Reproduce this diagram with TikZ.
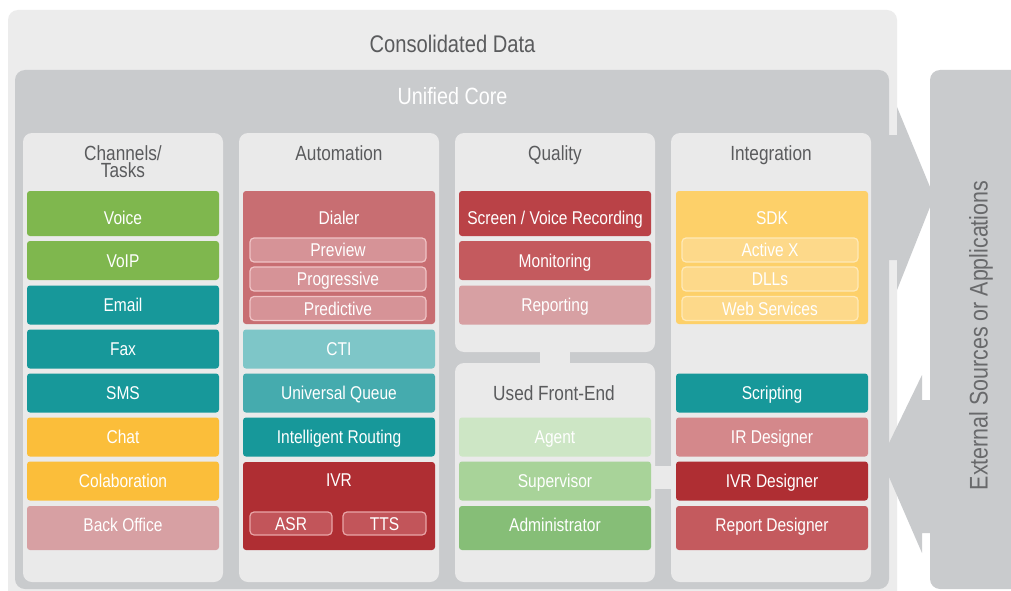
\documentclass[tikz,border=0pt]{standalone}
\usepackage{fontspec}
\setmainfont{Liberation Sans}[FakeStretch=0.84]
\usetikzlibrary{positioning}

\definecolor{consol}{HTML}{ECECEC}
\definecolor{coregray}{HTML}{C9CBCD}
\definecolor{panelgray}{HTML}{EAEAEA}
\definecolor{titlegray}{HTML}{5A5B5D}
\definecolor{extgray}{HTML}{68696B}
\definecolor{leafgreen}{HTML}{7FB74E}
\definecolor{tealdark}{HTML}{17989A}
\definecolor{sunyellow}{HTML}{FBBE3A}
\definecolor{rosepale}{HTML}{D7A0A3}
\definecolor{dialred}{HTML}{C86E72}
\definecolor{dialsub}{HTML}{D69397}
\definecolor{dialline}{HTML}{F0C4C6}
\definecolor{ctiteal}{HTML}{7EC6C8}
\definecolor{queueteal}{HTML}{45ABAE}
\definecolor{ivrred}{HTML}{AF2E33}
\definecolor{asrred}{HTML}{C2555A}
\definecolor{asrline}{HTML}{E9A6A8}
\definecolor{recred}{HTML}{BA4247}
\definecolor{monred}{HTML}{C45A5E}
\definecolor{agentgreen}{HTML}{CDE6C5}
\definecolor{supgreen}{HTML}{A8D399}
\definecolor{admgreen}{HTML}{86BE77}
\definecolor{sdkyellow}{HTML}{FDD069}
\definecolor{sdksub}{HTML}{FDD98A}
\definecolor{sdkline}{HTML}{FEE9B8}
\definecolor{irrose}{HTML}{D4888B}

\tikzset{
	chip/.style={rectangle, rounded corners=3pt, inner sep=0pt, minimum width=192pt, minimum height=39pt,
		text=white, font=\fontsize{18.5}{20}\selectfont, text height=13.2pt, text depth=0pt},
	toprow/.style={minimum height=0pt, text height=33.3pt, text depth=11.7pt},
	botrow/.style={minimum height=0pt, text height=25.6pt, text depth=18.4pt},
	chiplabel/.style={inner sep=0pt, text=white, font=\fontsize{18.5}{20}\selectfont, text height=13.2pt, text depth=0pt},
	subchip/.style={rectangle, rounded corners=4pt, line width=1.2pt, inner sep=0pt, minimum width=176pt, minimum height=24pt,
		text=white, font=\fontsize{18.5}{20}\selectfont, text height=13.2pt, text depth=0pt},
	panelbox/.style={rectangle, rounded corners=9pt, fill=panelgray, inner sep=0pt, minimum width=200pt},
	heading/.style={anchor=base, inner sep=0pt, text=titlegray, font=\fontsize{20.5}{17}\selectfont},
	bigtitle/.style={anchor=base, inner sep=0pt, font=\fontsize{24}{26}\selectfont}
}

\begin{document}
\begin{tikzpicture}[x=1pt,y=-1pt]
	\useasboundingbox (0,0) rectangle (1011,591);
	\fill[white] (0,0) rectangle (1011,591);

	\fill[consol, rounded corners=10pt] (8,10) rectangle (897,610);
	\fill[coregray, rounded corners=10pt] (15,70) rectangle (889,589);
	\fill[coregray, rounded corners=10pt] (930,70) rectangle (1030,589);

	% arrows to and from the outside
	\fill[coregray] (889,135) -- (897,135) -- (897,107) -- (930,187) -- (930,207) -- (897,290) -- (897,260) -- (889,260) -- cycle;
	\fill[coregray] (930,400) -- (922,400) -- (922,375) -- (889,443) -- (889,477) -- (922,553) -- (922,533) -- (930,533) -- cycle;

	\node[bigtitle, text=titlegray] (consolidated) at (452.5,53) {Consolidated Data};
	\node[bigtitle, text=white, font=\fontsize{23.5}{25}\selectfont] (unified) at (452.5,104.3) {Unified Core};
	\node[bigtitle, text=extgray, rotate=90, font=\fontsize{25.5}{27}\selectfont] (external) at (987.5,335.5) {External Sources or Applications};

	\node[panelbox, minimum height=449pt] (channels) at (123,357.5) {};
	\node[panelbox, minimum height=449pt] (automation) at (339,357.5) {};
	\node[panelbox, minimum height=219pt] (quality) at (555,242.5) {};
	\node[panelbox, minimum height=219pt] (frontend) at (555,472.5) {};
	\node[panelbox, minimum height=449pt] (integration) at (771,357.5) {};

	\coordinate (joinmid) at (integration.west |- frontend.east);
	\fill[panelgray] ([xshift=-15pt,yshift=2pt]quality.south) rectangle ([xshift=15pt,yshift=-2pt]frontend.north);
	\fill[panelgray] ([xshift=-2pt,yshift=6.5pt]frontend.east) rectangle ([xshift=2pt,yshift=-16.5pt]joinmid);

	\node[heading, align=center] (chantitle) at (123,177) {Channels/\\Tasks};
	\node[heading] (autotitle) at (339,160) {Automation};
	\node[heading] (qualtitle) at (555,160) {Quality};
	\node[heading] (fronttitle) at (554,400.5) {Used Front-End};
	\node[heading] (integtitle) at (771,160) {Integration};

	\node[chip, toprow, fill=leafgreen] (voice) at (123,213.5) {Voice};
	\node[chip, fill=leafgreen] (voip) at (123,260.5) {VoIP};
	\node[chip, fill=tealdark] (email) at (123,305) {Email};
	\node[chip, fill=tealdark] (fax) at (123,349) {Fax};
	\node[chip, fill=tealdark] (sms) at (123,393) {SMS};
	\node[chip, fill=sunyellow] (chat) at (123,437) {Chat};
	\node[chip, fill=sunyellow] (colab) at (123,481) {Colaboration};
	\node[chip, botrow, fill=rosepale] (backoffice) at (123,528) {Back Office};

	\node[chip, fill=dialred, minimum height=133pt] (dialer) at (339,257.5) {};
	\node[chiplabel] (dialerlbl) at (339,217.5) {Dialer};
	\node[subchip, fill=dialsub, draw=dialline] (preview) at (338,250) {Preview};
	\node[subchip, fill=dialsub, draw=dialline] (progressive) at (338,279) {Progressive};
	\node[subchip, fill=dialsub, draw=dialline] (predictive) at (338,308.5) {Predictive};
	\node[chip, fill=ctiteal] (cti) at (339,349) {CTI};
	\node[chip, fill=queueteal] (queue) at (339,393) {Universal Queue};
	\node[chip, fill=tealdark] (routing) at (339,437) {Intelligent Routing};
	\node[chip, fill=ivrred, minimum height=88pt] (ivr) at (339,506) {};
	\node[chiplabel] (ivrlbl) at (339,480) {IVR};
	\node[subchip, fill=asrred, draw=asrline, minimum width=82pt, minimum height=23pt] (asr) at (291,523.5) {ASR};
	\node[subchip, fill=asrred, draw=asrline, minimum width=83pt, minimum height=23pt] (tts) at (384.5,523.5) {TTS};

	\node[chip, toprow, fill=recred] (recording) at (555,213.5) {Screen / Voice Recording};
	\node[chip, fill=monred] (monitoring) at (555,260.5) {Monitoring};
	\node[chip, fill=rosepale] (reporting) at (555,305) {Reporting};

	\node[chip, fill=agentgreen] (agent) at (555,437) {Agent};
	\node[chip, fill=supgreen] (supervisor) at (555,481) {Supervisor};
	\node[chip, botrow, fill=admgreen] (admin) at (555,528) {Administrator};

	\node[chip, fill=sdkyellow, minimum height=133pt] (sdk) at (772,257.5) {};
	\node[chiplabel] (sdklbl) at (772,217.5) {SDK};
	\node[subchip, fill=sdksub, draw=sdkline] (activex) at (770,250) {Active X};
	\node[subchip, fill=sdksub, draw=sdkline] (dlls) at (770,279) {DLLs};
	\node[subchip, fill=sdksub, draw=sdkline] (websvc) at (770,308.5) {Web Services};
	\node[chip, fill=tealdark] (scripting) at (772,393) {Scripting};
	\node[chip, fill=irrose] (irdesigner) at (772,437) {IR Designer};
	\node[chip, fill=ivrred] (ivrdesigner) at (772,481) {IVR Designer};
	\node[chip, botrow, fill=monred] (repdesigner) at (772,528) {Report Designer};

\end{tikzpicture}
\end{document}
